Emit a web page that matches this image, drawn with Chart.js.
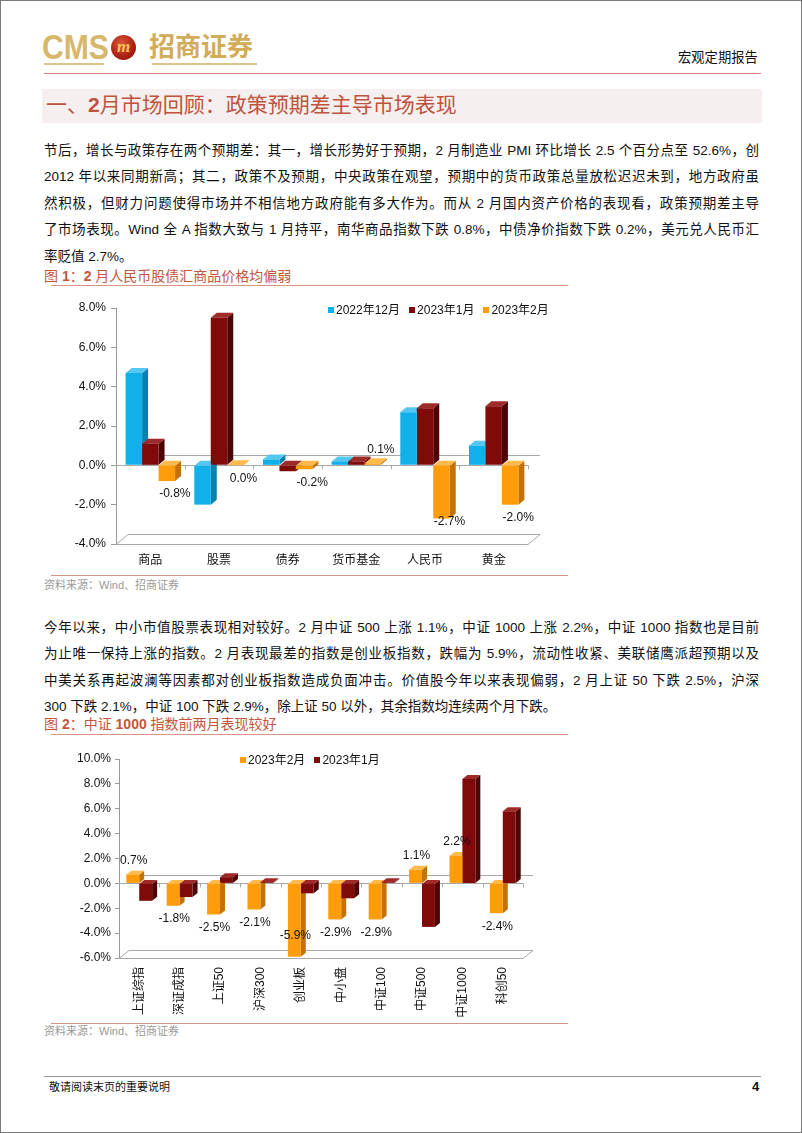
<!DOCTYPE html>
<html><head><meta charset="utf-8">
<script src="https://cdn.jsdelivr.net/npm/chart.js@4.4.1/dist/chart.umd.min.js"></script>
<style>
html,body{margin:0;padding:0;background:#fff;}
#page{position:relative;width:802px;height:1133px;box-sizing:border-box;border:1px solid #7a7a7a;overflow:hidden;
 font-family:"Liberation Sans","Noto Sans CJK SC",sans-serif;color:#111;}
.abs{position:absolute;white-space:nowrap;}
.line{position:absolute;left:43px;width:715px;font-size:13.5px;line-height:20px;text-align:justify;text-align-last:justify;white-space:normal;}
.line.last{text-align-last:left;}
.figt{position:absolute;left:43px;font-size:14px;line-height:18px;color:#C4553E;}
.figt b{font-weight:bold;}
.rule{position:absolute;height:0;border-top:1px solid #D99484;}
.src{position:absolute;left:43px;font-size:11px;line-height:14px;color:#9a9a9a;}
.legend{position:absolute;font-size:12px;line-height:14px;white-space:nowrap;}
.legend span.it{display:inline-block;margin-right:9px;}
.legend i{display:inline-block;width:6px;height:6px;margin-right:2px;vertical-align:1px;}
.cv{position:absolute;}
</style></head><body>
<div id="page">
  <!-- header -->
  <div class="abs" style="left:41px;top:26px;font-size:35px;line-height:40px;font-weight:bold;color:#D6B76B;transform:scaleX(0.86);transform-origin:0 0;">CMS</div>
  <div class="abs" style="left:43px;top:62px;width:60px;height:2px;background:#DCC48A;"></div>
  <div class="abs" style="left:110px;top:34px;width:25px;height:25px;border-radius:50%;background:radial-gradient(circle at 40% 35%,#E0563A,#A1180E 70%,#7A0F08);color:#F3C85A;font:italic bold 17px/24px 'Liberation Serif',serif;text-align:center;">m</div>
  <div class="abs" style="left:148px;top:30px;font-size:26px;line-height:32px;font-weight:bold;color:#D2AC58;">招商证券</div>
  <div class="abs" style="left:151px;top:62px;width:105px;height:2px;background:#DCC48A;"></div>
  <div class="abs" style="left:677px;top:48px;font-size:13.3px;line-height:18px;color:#111;">宏观定期报告</div>
  <div class="abs" style="left:43px;top:72px;width:717px;height:1px;background:#D7877A;"></div>
  <!-- section heading -->
  <div class="abs" style="left:41px;top:88px;width:720px;height:34px;background:#F5F0EF;"></div>
  <div class="abs" style="left:45px;top:90px;font-size:21px;line-height:28px;color:#C0533F;">一、<b>2</b>月市场回顾：政策预期差主导市场表现</div>
  <!-- paragraph 1 -->
  <div class="line" style="top:140px;">节后，增长与政策存在两个预期差：其一，增长形势好于预期，2 月制造业 PMI 环比增长 2.5 个百分点至 52.6%，创</div>
  <div class="line" style="top:166px;">2012 年以来同期新高；其二，政策不及预期，中央政策在观望，预期中的货币政策总量放松迟迟未到，地方政府虽</div>
  <div class="line" style="top:193px;">然积极，但财力问题使得市场并不相信地方政府能有多大作为。而从 2 月国内资产价格的表现看，政策预期差主导</div>
  <div class="line" style="top:219px;">了市场表现。Wind 全 A 指数大致与 1 月持平，南华商品指数下跌 0.8%，中债净价指数下跌 0.2%，美元兑人民币汇</div>
  <div class="line last" style="top:246px;">率贬值 2.7%。</div>
  <!-- figure 1 -->
  <div class="figt" style="top:266px;">图 <b>1</b>：<b>2</b> 月人民币股债汇商品价格均偏弱</div>
  <div class="rule" style="left:50px;top:284px;width:517px;"></div>
  <div class="cv" style="left:40px;top:290px;width:520px;height:280px;"><canvas id="c1"></canvas></div>
  <div class="legend" id="lg1" style="left:327px;top:302px;"></div>
  <div class="rule" style="left:50px;top:574px;width:517px;"></div>
  <div class="src" style="top:577px;">资料来源：Wind、招商证券</div>
  <!-- paragraph 2 -->
  <div class="line" style="top:617px;">今年以来，中小市值股票表现相对较好。2 月中证 500 上涨 1.1%，中证 1000 上涨 2.2%，中证 1000 指数也是目前</div>
  <div class="line" style="top:643px;">为止唯一保持上涨的指数。2 月表现最差的指数是创业板指数，跌幅为 5.9%，流动性收紧、美联储鹰派超预期以及</div>
  <div class="line" style="top:670px;">中美关系再起波澜等因素都对创业板指数造成负面冲击。价值股今年以来表现偏弱，2 月上证 50 下跌 2.5%，沪深</div>
  <div class="line last" style="top:696px;">300 下跌 2.1%，中证 100 下跌 2.9%，除上证 50 以外，其余指数均连续两个月下跌。</div>
  <!-- figure 2 -->
  <div class="figt" style="top:714px;">图 <b>2</b>：中证 <b>1000</b> 指数前两月表现较好</div>
  <div class="rule" style="left:50px;top:733px;width:517px;"></div>
  <div class="cv" style="left:40px;top:740px;width:520px;height:277px;"><canvas id="c2"></canvas></div>
  <div class="legend" id="lg2" style="left:239px;top:752px;"></div>
  <div class="rule" style="left:50px;top:1022px;width:517px;"></div>
  <div class="src" style="top:1023px;">资料来源：Wind、招商证券</div>
  <!-- footer -->
  <div class="abs" style="left:43px;top:1075px;width:717px;height:1px;background:#999;"></div>
  <div class="abs" style="left:48px;top:1079px;font-size:11px;line-height:14px;color:#111;">敬请阅读末页的重要说明</div>
  <div class="abs" style="left:751px;top:1078px;font-size:13px;line-height:16px;font-weight:bold;color:#111;">4</div>
</div>
<script>
// ---------- data ----------
const categories1 = ['商品', '股票', '债券', '货币基金', '人民币', '黄金'];
const seriesNames1 = ['2022年12月', '2023年1月', '2023年2月'];
const dec2022 = [4.7, -2.0, 0.3, 0.2, 2.7, 1.0];
const jan2023 = [1.1, 7.5, -0.3, 0.2, 2.9, 3.0];
const feb2023 = [-0.8, 0.0, -0.2, 0.1, -2.7, -2.0];
const yRange1 = [-4, 8, 2];

const categories2 = ['上证综指', '深证成指', '上证50', '沪深300', '创业板', '中小盘', '中证100', '中证500', '中证1000', '科创50'];
const seriesNames2 = ['2023年2月', '2023年1月'];
const idxFeb = [0.7, -1.8, -2.5, -2.1, -5.9, -2.9, -2.9, 1.1, 2.2, -2.4];
const idxJan = [-1.4, -1.1, 0.5, 0.1, -0.8, -1.2, 0.1, -3.5, 8.4, 5.8];
const yRange2 = [-6, 10, 2];

// ---------- styles ----------
const FONT = "'Liberation Sans','Noto Sans CJK SC',sans-serif";
const COL = {
  cyan:   {front:'#12B0EA', side:'#0B7FAE', top:'#55C8F2'},
  maroon: {front:'#7E0A0A', side:'#4E0404', top:'#9E2A2A'},
  orange: {front:'#FF9C0A', side:'#C47206', top:'#FFBA4C'}
};

const depth3d = {
  id: 'depth3d',
  beforeDatasetsDraw(chart, args, o) {
    const {ctx, chartArea: a} = chart;
    const ys = chart.scales.y;
    const y0 = ys.getPixelForValue(0);
    const W = o.wall, B = o.bar;
    ctx.save();
    ctx.lineWidth = 1;
    ctx.strokeStyle = '#A8A8A8';
    ctx.beginPath();
    ctx.moveTo(a.left, a.bottom + 0.5);
    ctx.lineTo(a.left + W.dx, a.bottom + W.dy + 0.5);
    ctx.lineTo(a.right + W.dx, a.bottom + W.dy + 0.5);
    ctx.lineTo(a.right, a.bottom + 0.5);
    ctx.closePath();
    ctx.stroke();
    ctx.beginPath();
    ctx.moveTo(a.left + W.dx, Math.round(y0 + W.dy) + 0.5);
    ctx.lineTo(a.right + W.dx, Math.round(y0 + W.dy) + 0.5);
    ctx.stroke();
    ctx.beginPath();
    ctx.moveTo(a.left, Math.round(y0) + 0.5);
    ctx.lineTo(a.right, Math.round(y0) + 0.5);
    const n = chart.data.labels.length, cw = (a.right - a.left) / n;
    for (let i = 1; i <= n; i++) {
      const x = Math.round(a.left + i * cw) + 0.5;
      ctx.moveTo(x, y0); ctx.lineTo(x, y0 + 4);
    }
    ctx.stroke();
    chart.data.datasets.forEach((ds, i) => {
      const meta = chart.getDatasetMeta(i);
      meta.data.forEach(bar => {
        const p = bar.getProps(['x', 'y', 'base', 'width'], true);
        const l = p.x - p.width / 2, r = p.x + p.width / 2;
        const top = Math.min(p.y, p.base), bot = Math.max(p.y, p.base);
        ctx.fillStyle = ds.sideColor;
        ctx.beginPath();
        ctx.moveTo(r, top); ctx.lineTo(r + B.dx, top + B.dy); ctx.lineTo(r + B.dx, bot + B.dy); ctx.lineTo(r, bot);
        ctx.closePath(); ctx.fill();
        ctx.fillStyle = ds.topColor;
        ctx.beginPath();
        ctx.moveTo(l, top); ctx.lineTo(l + B.dx, top + B.dy); ctx.lineTo(r + B.dx, top + B.dy); ctx.lineTo(r, top);
        ctx.closePath(); ctx.fill();
      });
    });
    ctx.restore();
  },
  afterDatasetsDraw(chart, args, o) {
    const {ctx, chartArea: a} = chart;
    ctx.save();
    ctx.font = '12px ' + FONT;
    ctx.fillStyle = '#111';
    ctx.textAlign = 'center';
    ctx.textBaseline = 'middle';
    chart.data.datasets.forEach((ds, i) => {
      if (!ds.showValues) return;
      const meta = chart.getDatasetMeta(i);
      meta.data.forEach((bar, j) => {
        const v = ds.data[j];
        const p = bar.getProps(['x', 'y', 'base'], true);
        let y = v > 0 ? Math.min(p.y, p.base) - 14 : Math.max(p.y, p.base) + 13;
        y = Math.min(y, a.bottom - 22);
        ctx.fillText(v.toFixed(1) + '%', p.x + o.labelDx, y);
      });
    });
    ctx.restore();
  }
};

function ds(label, data, c, showValues) {
  return {label, data, backgroundColor: c.front, sideColor: c.side, topColor: c.top,
          borderWidth: 0, showValues, barPercentage: 1.0};
}

function makeChart(id, labels, datasets, yr, cfg) {
  return new Chart(document.getElementById(id), {
    type: 'bar',
    data: {labels, datasets},
    plugins: [depth3d],
    options: {
      responsive: true, maintainAspectRatio: false, animation: false,
      layout: {padding: {top: cfg.padTop, right: cfg.padRight, left: 0, bottom: 0}},
      datasets: {bar: {categoryPercentage: cfg.catPct}},
      plugins: {
        legend: {display: false}, tooltip: {enabled: false},
        depth3d: {wall: cfg.wall, bar: cfg.bar, labelDx: cfg.labelDx}
      },
      scales: {
        x: {
          grid: {display: false, drawTicks: false},
          border: {display: false},
          ticks: {font: {size: 12, family: FONT}, color: '#111', padding: cfg.xPad,
                  autoSkip: false, minRotation: cfg.rot, maxRotation: cfg.rot},
          afterFit: s => { s.height = cfg.xHeight; }
        },
        y: {
          min: yr[0], max: yr[1],
          grid: {drawOnChartArea: false, drawTicks: true, tickLength: cfg.tickLen, color: '#999'},
          border: {display: true, color: '#999'},
          ticks: {stepSize: yr[2], font: {size: 12, family: FONT}, color: '#111', padding: cfg.yPad,
                  callback: v => v.toFixed(1) + '%'},
          afterFit: s => { s.width = cfg.yWidth; }
        }
      }
    }
  });
}

function legend(id, names, colors) {
  const el = document.getElementById(id);
  names.forEach((n, i) => {
    const it = document.createElement('span'); it.className = 'it';
    const sq = document.createElement('i'); sq.style.background = colors[i].front;
    it.appendChild(sq); it.appendChild(document.createTextNode(n));
    el.appendChild(it);
  });
}

const colors1 = [COL.cyan, COL.maroon, COL.orange];
makeChart('c1', categories1, [
  ds(seriesNames1[0], dec2022, colors1[0], false),
  ds(seriesNames1[1], jan2023, colors1[1], false),
  ds(seriesNames1[2], feb2023, colors1[2], true)
], yRange1, {padTop: 17, padRight: 33, catPct: 0.72, wall: {dx: 12, dy: -10}, bar: {dx: 6, dy: -5},
  labelDx: 8, xPad: 9, rot: 0, xHeight: 27, tickLen: 5, yPad: 5, yWidth: 75});
legend('lg1', seriesNames1, colors1);

const colors2 = [COL.orange, COL.maroon];
makeChart('c2', categories2, [
  ds(seriesNames2[0], idxFeb, colors2[0], true),
  ds(seriesNames2[1], idxJan, colors2[1], false)
], yRange2, {padTop: 18, padRight: 38, catPct: 0.64, wall: {dx: 10, dy: -8}, bar: {dx: 5, dy: -4},
  labelDx: 1, xPad: 9, rot: 90, xHeight: 60, tickLen: 4, yPad: 4, yWidth: 78});
legend('lg2', seriesNames2, colors2);
</script>
</body></html>
